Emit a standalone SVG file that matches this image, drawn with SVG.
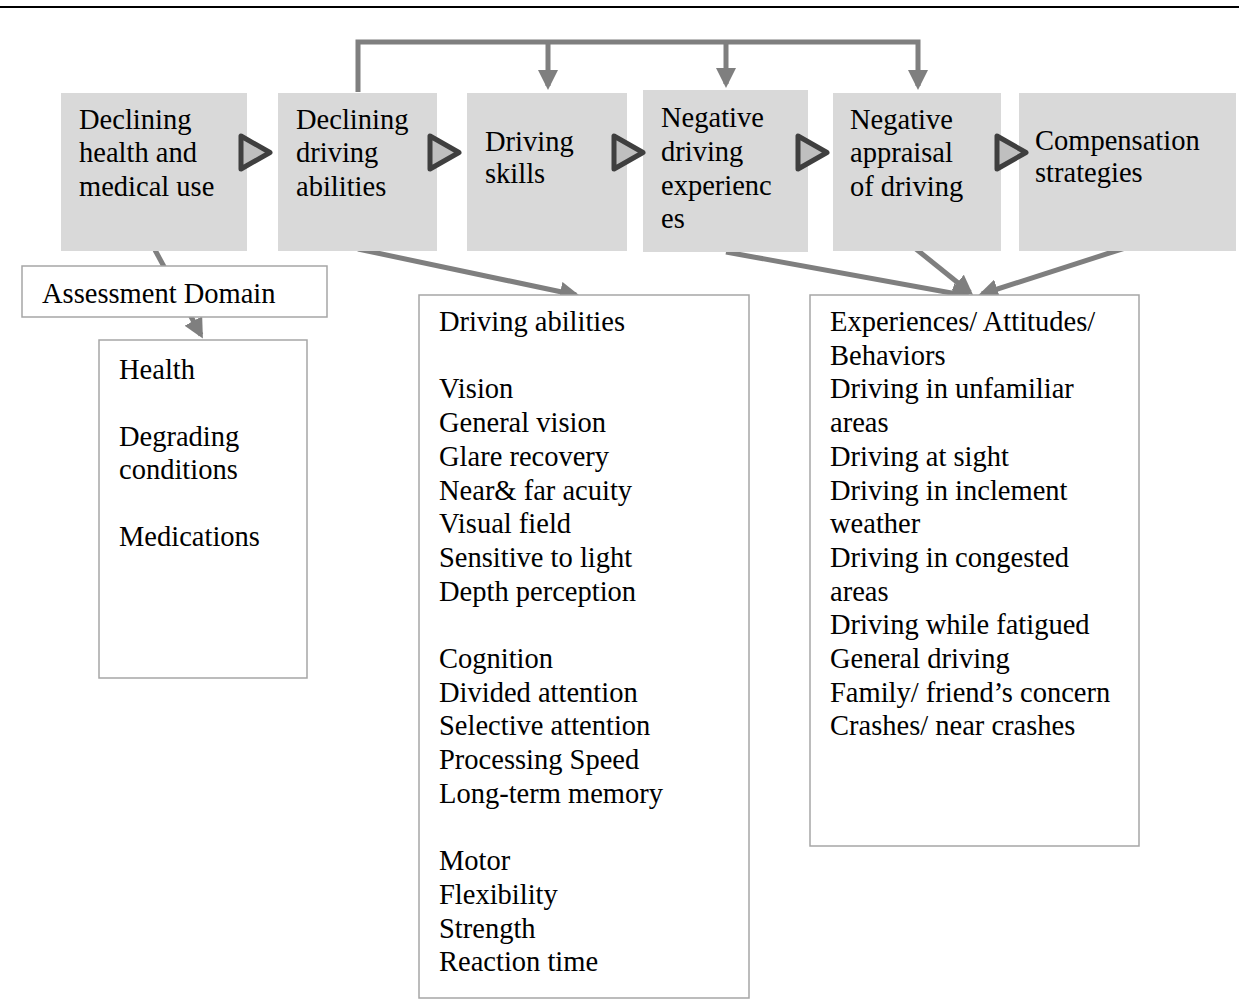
<svg xmlns="http://www.w3.org/2000/svg" width="1244" height="1000" viewBox="0 0 1244 1000">
<style>
.stage{fill:#d9d9d9}
.t{font-family:"Liberation Serif","Times New Roman",serif;font-size:28.5px;fill:#000}
.box{fill:#fff;stroke:#a6a6a6;stroke-width:1.5}
.con{stroke:#7f7f7f;stroke-width:5;fill:none}
.tri{fill:#bfbfbf;stroke:#3f3f3f;stroke-width:5;stroke-linejoin:round}
</style>
<defs>
<marker id="ah" markerWidth="4" markerHeight="4" refX="3.2" refY="2" orient="auto" markerUnits="strokeWidth">
<path d="M0,0 L4,2 L0,4 z" fill="#7f7f7f"/>
</marker>
</defs>
<rect width="1244" height="1000" fill="#fff"/>
<line x1="0" y1="7" x2="1239" y2="7" stroke="#000" stroke-width="2"/>

<g id="connectors">
<polyline class="con" points="358,92 358,42 918,42 918,86" marker-end="url(#ah)"/>
<line class="con" x1="548" y1="42" x2="548" y2="86" marker-end="url(#ah)"/>
<line class="con" x1="726" y1="42" x2="726" y2="84" marker-end="url(#ah)"/>
<line class="con" x1="155" y1="250" x2="201" y2="335" marker-end="url(#ah)"/>
<line class="con" x1="358" y1="249" x2="576" y2="295" marker-end="url(#ah)"/>
<line class="con" x1="726" y1="252" x2="968" y2="296" marker-end="url(#ah)"/>
<line class="con" x1="916" y1="249" x2="970" y2="292.5" marker-end="url(#ah)"/>
<line class="con" x1="1125" y1="248" x2="982" y2="294" marker-end="url(#ah)"/>
</g>

<g id="n1"><rect class="stage" x="61" y="93" width="186" height="158"/>
<text class="t" x="79" y="129">Declining</text><text class="t" x="79" y="162">health and</text><text class="t" x="79" y="196">medical use</text></g>
<g id="n2"><rect class="stage" x="278" y="93" width="159" height="158"/>
<text class="t" x="296" y="129">Declining</text><text class="t" x="296" y="162">driving</text><text class="t" x="296" y="196">abilities</text></g>
<g id="n3"><rect class="stage" x="467" y="93" width="160" height="158"/>
<text class="t" x="485" y="151">Driving</text><text class="t" x="485" y="183">skills</text></g>
<g id="n4"><rect class="stage" x="643" y="90" width="165" height="162"/>
<text class="t" x="661" y="127">Negative</text><text class="t" x="661" y="161">driving</text><text class="t" x="661" y="195">experienc</text><text class="t" x="661" y="228">es</text></g>
<g id="n5"><rect class="stage" x="833" y="93" width="168" height="158"/>
<text class="t" x="850" y="129">Negative</text><text class="t" x="850" y="162">appraisal</text><text class="t" x="850" y="196">of driving</text></g>
<g id="n6"><rect class="stage" x="1019" y="93" width="217" height="158"/>
<text class="t" x="1035" y="150">Compensation</text><text class="t" x="1035" y="182">strategies</text></g>

<g id="chevrons">
<polygon class="tri" points="241,136 241,169 270,152.5"/>
<polygon class="tri" points="430,136 430,169 459,152.5"/>
<polygon class="tri" points="614,136 614,169 643,152.5"/>
<polygon class="tri" points="798,136 798,169 827,152.5"/>
<polygon class="tri" points="997,136 997,169 1026,152.5"/>
</g>

<g id="assessment"><rect class="box" x="22" y="266" width="305" height="51"/>
<text class="t" x="42" y="303">Assessment Domain</text></g>

<g id="health"><rect class="box" x="99" y="340" width="208" height="338"/>
<text class="t" x="119" y="379">Health</text>
<text class="t" x="119" y="446">Degrading</text>
<text class="t" x="119" y="479">conditions</text>
<text class="t" x="119" y="546">Medications</text></g>

<g id="abilities"><rect class="box" x="419" y="295" width="330" height="703"/>
<text class="t" x="439" y="331">Driving abilities</text>
<text class="t" x="439" y="398.4">Vision</text>
<text class="t" x="439" y="432.1">General vision</text>
<text class="t" x="439" y="465.8">Glare recovery</text>
<text class="t" x="439" y="499.5">Near&amp; far acuity</text>
<text class="t" x="439" y="533.2">Visual field</text>
<text class="t" x="439" y="566.9">Sensitive to light</text>
<text class="t" x="439" y="600.6">Depth perception</text>
<text class="t" x="439" y="668">Cognition</text>
<text class="t" x="439" y="701.7">Divided attention</text>
<text class="t" x="439" y="735.4">Selective attention</text>
<text class="t" x="439" y="769.1">Processing Speed</text>
<text class="t" x="439" y="802.8">Long-term memory</text>
<text class="t" x="439" y="870.2">Motor</text>
<text class="t" x="439" y="903.9">Flexibility</text>
<text class="t" x="439" y="937.6">Strength</text>
<text class="t" x="439" y="971.3">Reaction time</text></g>

<g id="experiences"><rect class="box" x="810" y="295" width="329" height="551"/>
<text class="t" x="830" y="331">Experiences/ Attitudes/</text>
<text class="t" x="830" y="364.7">Behaviors</text>
<text class="t" x="830" y="398.4">Driving in unfamiliar</text>
<text class="t" x="830" y="432.1">areas</text>
<text class="t" x="830" y="465.8">Driving at sight</text>
<text class="t" x="830" y="499.5">Driving in inclement</text>
<text class="t" x="830" y="533.2">weather</text>
<text class="t" x="830" y="566.9">Driving in congested</text>
<text class="t" x="830" y="600.6">areas</text>
<text class="t" x="830" y="634.3">Driving while fatigued</text>
<text class="t" x="830" y="668">General driving</text>
<text class="t" x="830" y="701.7">Family/ friend’s concern</text>
<text class="t" x="830" y="735.4">Crashes/ near crashes</text></g>
</svg>
